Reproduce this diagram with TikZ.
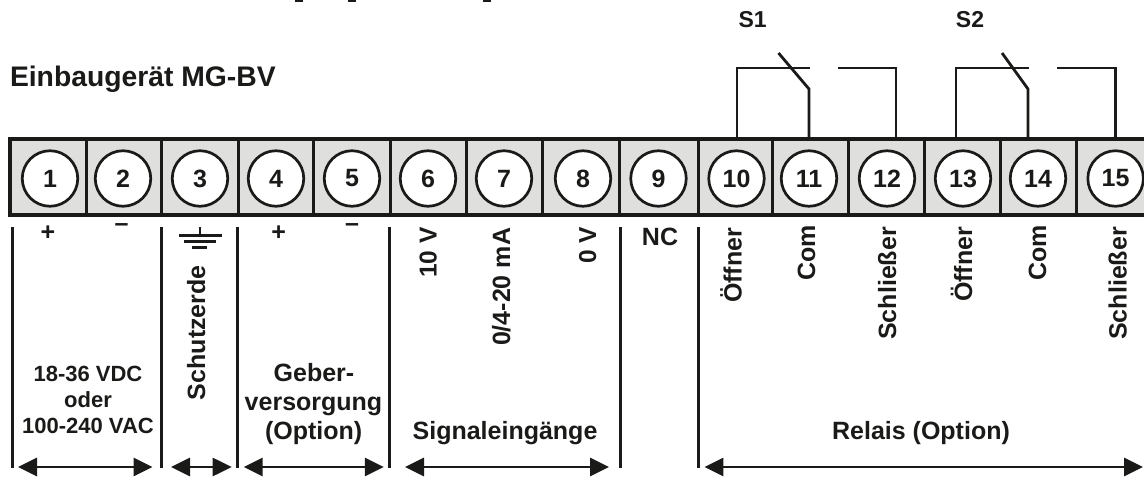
\documentclass[tikz,border=0pt]{standalone}
\usepackage{fontspec}
\setmainfont{Liberation Sans}
\usetikzlibrary{arrows.meta}
\definecolor{ink}{HTML}{1A1A18}
\definecolor{strip}{HTML}{DFDFDD}
\tikzset{
  lbl/.style={inner sep=0pt,outer sep=0pt,text=ink,font=\fontsize{25}{30}\selectfont\bfseries,anchor=base},
  small/.style={lbl,font=\fontsize{22}{26}\selectfont\bfseries},
  vlbl/.style={lbl,rotate=90,anchor=base west},
  term/.style={circle,draw=ink,line width=2.7pt,fill=white,minimum size=55.5pt,inner sep=0pt,text=ink,font=\fontsize{25}{30}\selectfont\bfseries},
  rule/.style={draw=ink,line width=3pt},
  wire/.style={draw=ink,line width=2.8pt,line join=miter},
  span/.style={draw=ink,line width=2.8pt,{Triangle[length=19pt,width=18pt]}-{Triangle[length=19pt,width=18pt]}}
}
\begin{document}
\begin{tikzpicture}[x=1pt,y=-1pt]
\useasboundingbox (0,0) rectangle (1144,478);
% fragments of the cut-off line at the top edge
\foreach \a/\b in {295/303,348/356,483/491}{\fill[ink] (\a,0) rectangle (\b,1.6);}
\node[lbl,font=\fontsize{28.3}{32}\selectfont\bfseries,anchor=base west] (title) at (10,87) {Einbaugerät MG-BV};
% strip
\fill[strip] (10,139) rectangle (1144,215);
\draw[rule,line width=3.4pt] (1144,139) -- (10,139) -- (10,215) -- (1144,215);
\foreach \x in {86,161,238,313,390,466,542,619,698,772,848.5,924,1000.7,1076.6}{\draw[rule] (\x,139) -- (\x,215);}
\foreach \n/\x in {1/50,2/123,3/200,4/276,5/352,6/428,7/504,8/583,9/658.5,10/736.5,11/809,12/887,13/963,14/1038,15/1115.6}{
  \node[term] (t\n) at (\x,178.5) {\n};
}
% relay S1
\coordinate (a1) at (737,139); \coordinate (a2) at (737,68); \coordinate (a3) at (810,68);
\coordinate (b1) at (809,139); \coordinate (b2) at (809,89); \coordinate (b3) at (778.5,53);
\coordinate (c1) at (896,139); \coordinate (c2) at (896,68); \coordinate (c3) at (837.5,68);
\draw[wire] (a1) -- (a2) -- (a3);
\draw[wire] (b1) -- (b2) -- (b3);
\draw[wire] (c1) -- (c2) -- (c3);
% relay S2
\coordinate (d1) at (956,139); \coordinate (d2) at (956,68); \coordinate (d3) at (1029,68);
\coordinate (e1) at (1028,139); \coordinate (e2) at (1028,89); \coordinate (e3) at (1002,53);
\coordinate (f1) at (1115.6,139); \coordinate (f2) at (1115.6,68); \coordinate (f3) at (1057,68);
\draw[wire] (d1) -- (d2) -- (d3);
\draw[wire] (e1) -- (e2) -- (e3);
\draw[wire] (f1) -- (f2) -- (f3);
\node[small,font=\fontsize{23}{26}\selectfont\bfseries] (s1) at (752.6,28) {S1};
\node[small,font=\fontsize{23}{26}\selectfont\bfseries] (s2) at (970,28) {S2};
% group separators
\foreach \x in {12,161.6,237.5,389.6,620,698}{\draw[rule] (\x,227) -- (\x,468);}
% spans
\foreach \i/\a/\b in {1/18/152.5,2/171/231.7,3/243.7/383.8,4/405/609,5/704.4/1143}{
  \coordinate (l\i) at (\a,467); \coordinate (r\i) at (\b,467);
  \draw[span] (l\i) -- (r\i);
}
% polarity
\node[lbl,anchor=center] (p1) at (48,233) {+};
\node[lbl,anchor=center] (m1) at (121.5,227.5) {–};
\node[lbl,anchor=center] (p2) at (278.7,233) {+};
\node[lbl,anchor=center] (m2) at (352,227.5) {–};
% earth
\draw[wire] (200,227) -- (200,236);
\draw[wire,line width=3pt] (179,236) -- (222,236);
\draw[wire,line width=3pt] (184,242) -- (216,242);
\draw[wire] (192,247.5) -- (207,247.5);
% vertical labels
\node[vlbl] (schutz) at (205,400) {Schutzerde};
\node[vlbl,font=\fontsize{24.5}{30}\selectfont\bfseries] (u10) at (436.7,278) {10 V};
\node[vlbl] (ma) at (510,346) {0/4-20 mA};
\node[vlbl,font=\fontsize{24.5}{30}\selectfont\bfseries] (u0) at (596,264) {0 V};
\node[lbl] (nc) at (660,245.7) {NC};
\node[vlbl] (o1) at (741.6,303) {Öffner};
\node[vlbl] (k1) at (815,280.7) {Com};
\node[vlbl] (w1) at (896,339.7) {Schließer};
\node[vlbl] (o2) at (972,302) {Öffner};
\node[vlbl] (k2) at (1046,280.7) {Com};
\node[vlbl] (w2) at (1126.5,339.7) {Schließer};
% group captions
\node[small] (g1) at (88,382) {18-36 VDC};
\node[small] (g2) at (88,408) {oder};
\node[small] (g3) at (88,433) {100-240 VAC};
\node[lbl] (h1) at (314,382) {Geber-};
\node[lbl] (h2) at (313.5,410.7) {versorgung};
\node[lbl] (h3) at (313.7,439) {(Option)};
\node[lbl] (sig) at (505,439) {Signaleingänge};
\node[lbl] (rel) at (921,439) {Relais (Option)};
\end{tikzpicture}
\end{document}
